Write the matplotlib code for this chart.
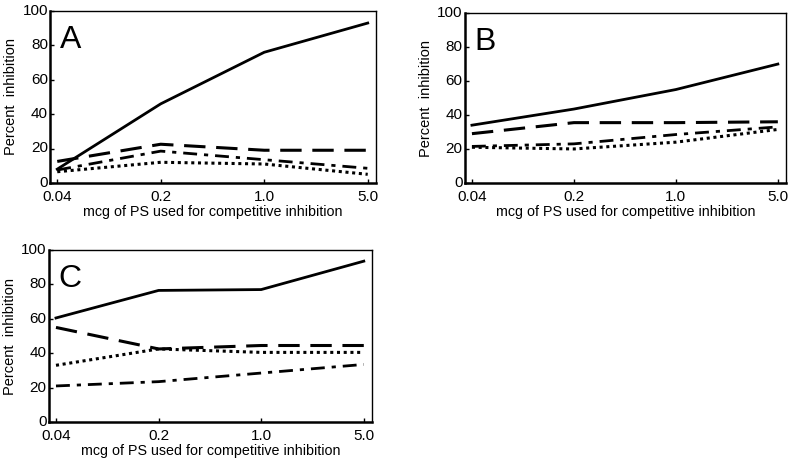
import numpy as np
import matplotlib
matplotlib.use('Agg')
import matplotlib.pyplot as plt
from matplotlib.transforms import ScaledTranslation

plt.rcParams['font.family'] = ['Liberation Sans', 'DejaVu Sans']

# doses (mcg of PS), equally spaced on the axis
doses = ['0.04', '0.2', '1.0', '5.0']

# panel A
a_solid = [8, 46, 76, 93]
a_dash = [12.5, 22.5, 19, 19]
a_dashdot = [7.5, 18.5, 13.5, 8.5]
a_dot = [6.5, 12, 11, 5]

# panel B
b_solid = [34, 43.5, 55, 70]
b_dash = [29, 35.5, 35.5, 36]
b_dashdot = [21.5, 23, 28.5, 33]
b_dot = [21, 20, 24, 31.5]

# panel C
c_solid = [60.5, 76.5, 77, 93.5]
c_dash = [55, 42.5, 44.5, 44.5]
c_dashdot = [21, 23.5, 28.5, 33.5]
c_dot = [33, 42.5, 40.5, 40.5]

styles = {
    'solid': dict(ls='-', lw=2.0),
    'dash': dict(ls=(0, (7, 3.5)), lw=2.2),
    'dashdot': dict(ls=(0, (5, 2.5, 1.5, 2.5)), lw=2.0),
    'dot': dict(ls=(0, (1, 1.2)), lw=2.2),
}

fig = plt.figure(figsize=(8, 4.69), dpi=100)

def panel(rect, letter, solid, dash, dashdot, dot):
    ax = fig.add_axes(rect)
    x = np.arange(len(doses))
    ax.plot(x, solid, color='black', **styles['solid'])
    ax.plot(x, dash, color='black', **styles['dash'])
    ax.plot(x, dashdot, color='black', **styles['dashdot'])
    ax.plot(x, dot, color='black', **styles['dot'])
    ax.set_xlim(-0.07, 3.08)
    ax.set_ylim(0, 100)
    ax.set_xticks(x)
    ax.set_xticklabels(doses)
    ax.set_yticks([0, 20, 40, 60, 80, 100])
    ax.tick_params(direction='in', length=3, width=1, labelsize=11, pad=1.5)
    ax.tick_params(axis='x', pad=5)
    # nudge y tick labels up a little, like the original
    shift = ScaledTranslation(0, 1.2 / 72, fig.dpi_scale_trans)
    for lab in ax.get_yticklabels():
        lab.set_transform(lab.get_transform() + shift)
    ax.set_xlabel('mcg of PS used for competitive inhibition', fontsize=10.3, labelpad=1)
    ax.set_ylabel('Percent  inhibition', fontsize=10.5, labelpad=3)
    for s in ax.spines.values():
        s.set_linewidth(1.0)
    ax.spines['left'].set_linewidth(1.8)
    ax.spines['bottom'].set_linewidth(1.8)
    ax.text(0.03, 0.92, letter, transform=ax.transAxes, fontsize=23, va='top', ha='left')
    return ax

panel([0.0625, 0.61, 0.4075, 0.3665], 'A', a_solid, a_dash, a_dashdot, a_dot)
panel([0.581, 0.61, 0.4015, 0.362], 'B', b_solid, b_dash, b_dashdot, b_dot)
panel([0.061, 0.10, 0.404, 0.367], 'C', c_solid, c_dash, c_dashdot, c_dot)

fig.savefig('out.png', dpi=100)
